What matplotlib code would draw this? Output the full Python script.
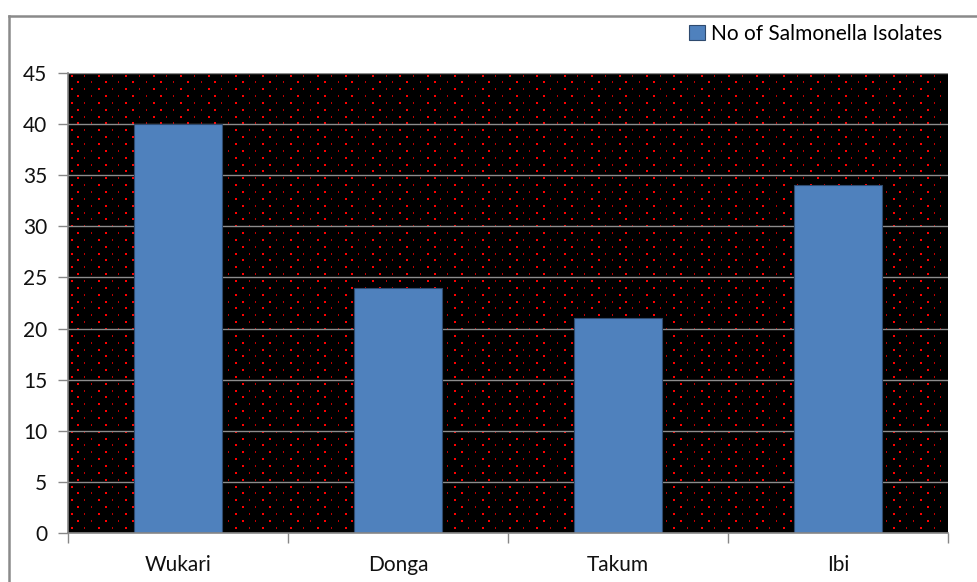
import numpy as np
import matplotlib.pyplot as plt
from matplotlib.lines import Line2D

regions = ['Wukari', 'Donga', 'Takum', 'Ibi']
isolates = [40, 24, 21, 34]
yticks = list(range(0, 50, 5))
series_name = 'No of Salmonella Isolates'

plt.rcParams['font.family'] = ['Lato', 'DejaVu Sans']

W, H = 977, 582
fig = plt.figure(figsize=(W / 100, H / 100), dpi=100)
x0, x1, y0, y1 = 68, 948, 73, 533
ax = fig.add_axes([x0 / W, 1 - y1 / H, (x1 - x0) / W, (y1 - y0) / H])
ax.patch.set_visible(False)

# black plot area with staggered red dots, placed pixel for pixel
pw, ph = x1 - x0, y1 - y0
bg = np.zeros((ph, pw, 3))
for r, yy in enumerate(np.arange(2, ph - 1, 6.85)):
    off = 0 if r % 2 == 0 else 6.85
    for c, xx in enumerate(np.arange(3 + off, pw - 2, 13.7)):
        i, j = int(yy), int(xx)
        if c % 2 == 0:
            bg[i:i + 2, j:j + 2] = [1, 0, 0]
        else:
            bg[i:i + 2, j] = [0.75, 0, 0]
fig.figimage(bg, xo=x0, yo=H - y1, origin='upper', zorder=-1)

xs = np.arange(len(regions))
bars = ax.bar(xs, isolates, width=0.4, color='#4F81BD', edgecolor='#2E4A6E',
              linewidth=0.8, zorder=2, label=series_name)

ax.set_xlim(-0.5, len(regions) - 0.5)
ax.set_ylim(0, 45)
ax.set_yticks(yticks)
ax.yaxis.grid(True, color='#8C8C8C', linewidth=1)
ax.set_axisbelow(True)

ax.set_xticks(np.arange(-0.5, len(regions)), labels=[''] * (len(regions) + 1))
ax.set_xticks(xs, labels=regions, minor=True)
ax.tick_params(axis='x', which='minor', length=0, pad=16)
ax.tick_params(axis='both', which='major', length=7, color='#868686', width=1)
ax.tick_params(axis='both', which='both', labelsize=15, labelcolor='#111111')
ax.tick_params(axis='y', pad=8)

for s in ['top', 'right']:
    ax.spines[s].set_visible(False)
for s in ['left', 'bottom']:
    ax.spines[s].set_color('#868686')
    ax.spines[s].set_linewidth(1.2)

fig.legend(handles=[bars], labels=[series_name], loc='upper right',
           bbox_to_anchor=(942 / W, 1 - 24 / H), frameon=False, fontsize=15,
           handlelength=0.75, handleheight=0.75, handletextpad=0.3,
           borderaxespad=0, borderpad=0)

# outer chart border (left and top edges visible)
fig.add_artist(Line2D([8.5 / W, 8.5 / W], [0, 1 - 15.5 / H], color='#8A8A8A', lw=1.8))
fig.add_artist(Line2D([8.5 / W, 1], [1 - 15.5 / H, 1 - 15.5 / H], color='#8A8A8A', lw=1.8))

fig.savefig('out.png', dpi=100)
